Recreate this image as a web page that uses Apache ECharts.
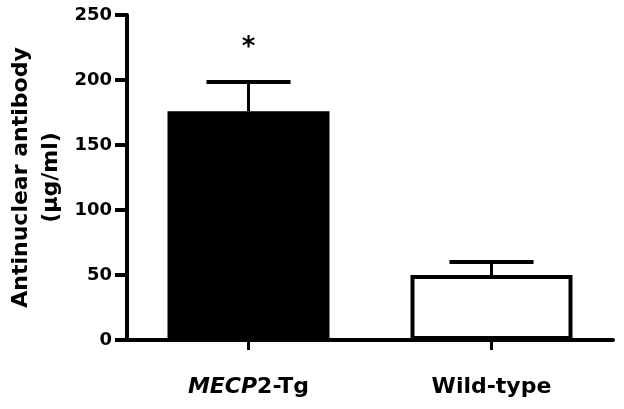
<!DOCTYPE html>
<html>
<head>
<meta charset="utf-8">
<script src="https://cdn.jsdelivr.net/npm/echarts@6/dist/echarts.min.js"></script>
<style>html,body{margin:0;padding:0;background:#fff}#c{width:624px;height:409px}</style>
</head>
<body>
<div id="c"></div>
<script>
var categories = ['MECP2-Tg', 'Wild-type'];
var means = [176, 50];
var sems = [22.5, 10];
var significance = ['*', ''];
var barColors = ['#000000', '#ffffff'];
var yTicks = [0, 50, 100, 150, 200, 250];

var FONT = 'DejaVu Sans';
var chart = echarts.init(document.getElementById('c'), null, {renderer: 'canvas'});
chart.setOption({
  animation: false,
  backgroundColor: '#fff',
  grid: {left: 127, right: 11, top: 15, bottom: 69, containLabel: false, outerBoundsMode: 'none'},
  xAxis: {
    type: 'category',
    data: categories,
    axisLine: {lineStyle: {color: '#000', width: 4}},
    axisTick: {show: true, alignWithLabel: true, length: 10, lineStyle: {color: '#000', width: 3}},
    axisLabel: {
      margin: 36,
      color: '#000',
      formatter: function (v) {
        if (v.indexOf('MECP') === 0) return '{i|MECP}{b|' + v.slice(4) + '}';
        return '{b|' + v + '}';
      },
      rich: {
        i: {fontFamily: FONT, fontWeight: 'bold', fontStyle: 'italic', fontSize: 22, color: '#000'},
        b: {fontFamily: FONT, fontWeight: 'bold', fontSize: 22, color: '#000'}
      }
    }
  },
  yAxis: {
    type: 'value',
    min: yTicks[0], max: yTicks[yTicks.length - 1], interval: 50,
    splitLine: {show: false},
    axisLine: {show: true, lineStyle: {color: '#000', width: 4}},
    axisTick: {show: true, length: 12, lineStyle: {color: '#000', width: 4}},
    axisLabel: {margin: 15, color: '#000', fontFamily: FONT, fontWeight: 'bold', fontSize: 18},
    name: 'Antinuclear antibody\n(μg/ml)',
    nameLocation: 'middle',
    nameRotate: 90,
    nameGap: 61,
    nameMoveOverlap: false,
    nameTextStyle: {fontFamily: FONT, fontWeight: 'bold', fontSize: 22, color: '#000', lineHeight: 30}
  },
  series: [
    {
      type: 'bar',
      barWidth: 162,
      data: means.map(function (m, i) {
        return {value: m, itemStyle: {color: barColors[i], borderColor: '#000', borderWidth: 4}};
      }),
      z: 2
    },
    {
      type: 'custom',
      z: 3,
      data: means.map(function (m, i) { return [i, m, m + sems[i]]; }),
      renderItem: function (params, api) {
        var i = api.value(0);
        var base = api.coord([i, api.value(1)]);
        var top = api.coord([i, api.value(2)]);
        var half = api.size([1, 0])[0] * 0.173;
        var children = [
          {type: 'line', shape: {x1: top[0], y1: base[1], x2: top[0], y2: top[1]}, style: {stroke: '#000', lineWidth: 3}},
          {type: 'line', shape: {x1: top[0] - half, y1: top[1], x2: top[0] + half, y2: top[1]}, style: {stroke: '#000', lineWidth: 4}}
        ];
        var s = significance[params.dataIndex];
        if (s) {
          children.push({type: 'text', style: {text: s, x: top[0], y: top[1] - 21, align: 'center', verticalAlign: 'bottom', font: 'bold 26px "' + FONT + '"', fill: '#000'}});
        }
        return {type: 'group', children: children};
      }
    }
  ]
});
</script>
</body>
</html>
